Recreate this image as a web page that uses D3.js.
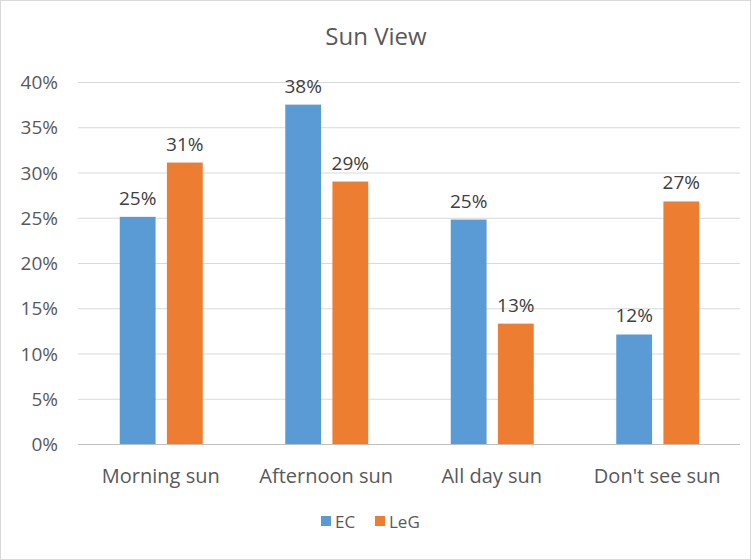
<!DOCTYPE html>
<html><head><meta charset="utf-8">
<script src="https://cdn.jsdelivr.net/npm/d3@7"></script>
<style>body{margin:0;background:#fff}svg{display:block}</style>
</head><body>
<script>
const categories = ["Morning sun","Afternoon sun","All day sun","Don't see sun"];
const seriesNames = ["EC","LeG"];
const ecValues = [25.1,37.5,24.8,12.1];
const legValues = [31.1,29.0,13.3,26.8];
const ecLabels = ["25%","38%","25%","12%"];
const legLabels = ["31%","29%","13%","27%"];
const yTicks = [0,5,10,15,20,25,30,35,40];
const colors = ["#5B9BD5","#ED7D31"];
const font = "'Open Sans', 'Liberation Sans', sans-serif";
const W=751,H=560;
const svg=d3.select("body").append("svg").attr("width",W).attr("height",H);
svg.append("rect").attr("x",0.5).attr("y",0.5).attr("width",W-1).attr("height",H-1).attr("fill","#fff").attr("stroke","#d9d9d9");
const x=d3.scaleBand().domain(categories).range([78,740]);
const y=d3.scaleLinear().domain([0,40]).range([444,82]);
const x1=d3.scaleBand().domain(seriesNames).range([0,83]).paddingInner(0.24);
svg.append("g").selectAll("line").data(yTicks).join("line")
 .attr("x1",78).attr("x2",740).attr("y1",d=>y(d)+0.5).attr("y2",d=>y(d)+0.5)
 .attr("stroke",d=>d===0?"#bfbfbf":"#d9d9d9");
svg.append("g").selectAll("text").data(yTicks).join("text")
 .attr("x",58).attr("y",d=>y(d)+7).attr("text-anchor","end")
 .attr("font-family",font).attr("font-size",19).attr("fill","#595959").text(d=>d+"%");
const series=[ecValues,legValues], labels=[ecLabels,legLabels];
series.forEach((vals,si)=>{
 const g=svg.append("g");
 g.selectAll("rect").data(categories).join("rect")
  .attr("x",(c)=>x(c)+x.bandwidth()/2-41+x1(seriesNames[si]))
  .attr("width",x1.bandwidth())
  .attr("y",(c,i)=>y(vals[i])).attr("height",(c,i)=>y(0)-y(vals[i]))
  .attr("fill",colors[si]);
 g.selectAll("text").data(categories).join("text")
  .attr("x",(c)=>x(c)+x.bandwidth()/2-41+x1(seriesNames[si])+x1.bandwidth()/2)
  .attr("y",(c,i)=>y(vals[i])-12).attr("text-anchor","middle")
  .attr("font-family",font).attr("font-size",19).attr("fill","#404040")
  .text((c,i)=>labels[si][i]);
});
svg.append("g").selectAll("text").data(categories).join("text")
 .attr("x",c=>x(c)+x.bandwidth()/2).attr("y",483).attr("text-anchor","middle")
 .attr("font-family",font).attr("font-size",20).attr("fill","#595959").text(c=>c);
svg.append("text").attr("x",376).attr("y",45).attr("text-anchor","middle")
 .attr("font-family",font).attr("font-size",24).attr("fill","#595959").text("Sun View");
const lg=svg.append("g");
const lx=[321,375];
seriesNames.forEach((n,i)=>{
 lg.append("rect").attr("x",lx[i]).attr("y",516).attr("width",10).attr("height",10).attr("fill",colors[i]);
 lg.append("text").attr("x",lx[i]+14).attr("y",528).attr("font-family",font).attr("font-size",17).attr("fill","#595959").text(n);
});
</script>
</body></html>
